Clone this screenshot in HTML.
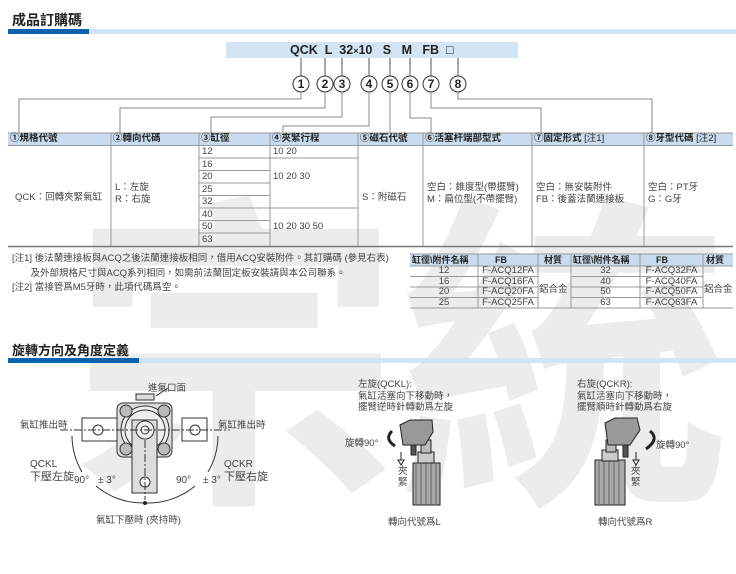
<!DOCTYPE html>
<html><head><meta charset="utf-8"><style>
body{margin:0;width:736px;height:538px;position:relative;background:#fff;overflow:hidden;font-family:"Liberation Sans","Noto Sans CJK TC",sans-serif;color:#333}
.a{position:absolute;white-space:nowrap}
.wm{position:absolute;color:#ececec;font-family:"Noto Sans CJK TC",sans-serif;font-weight:700;line-height:1}
.t{font-size:9.5px;color:#444}
</style></head><body>
<div class="wm" style="left:70px;top:170px;font-size:330px">宗</div>
<div class="wm" style="left:400px;top:170px;font-size:330px">統</div>

<div class="a" style="left:12px;top:10px;font-size:14px;font-weight:700;color:#222">成品訂購碼</div>
<div class="a" style="left:8px;top:29px;width:81px;height:5px;background:#0a63b0"></div>
<div class="a" style="left:89px;top:29px;width:647px;height:5px;background:#d3e4f4"></div>

<div class="a" style="left:226px;top:42px;width:292px;height:16px;background:#d3e4f4"></div>
<div class="a" style="left:290px;top:42px;font-size:12.5px;font-weight:700;color:#222;line-height:16px">QCK&nbsp; L&nbsp; 32<span style="font-size:9px">×</span>10&nbsp;&nbsp; S&nbsp;&nbsp; M&nbsp;&nbsp; FB&nbsp;&nbsp;<span style="font-weight:400">□</span></div>

<svg class="a" style="left:0;top:0" width="736" height="538">
<g fill="none" stroke="#555" stroke-width="1">
<path d="M301 58V77M325 58V77M342 58V77M369 58V77M390 58V77M410 58V77M431 58V77M458 58V77"/>
</g>
<g fill="#fff" stroke="#333" stroke-width="1">
<ellipse cx="301" cy="84" rx="8" ry="8"/><ellipse cx="325" cy="84" rx="8" ry="8"/><ellipse cx="342" cy="84" rx="8" ry="8"/><ellipse cx="369" cy="84" rx="8" ry="8"/><ellipse cx="390" cy="84" rx="8" ry="8"/><ellipse cx="410" cy="84" rx="8" ry="8"/><ellipse cx="431" cy="84" rx="8" ry="8"/><ellipse cx="458" cy="84" rx="8" ry="8"/>
</g>
<g font-size="12" font-weight="700" fill="#222" text-anchor="middle" font-family="Liberation Sans">
<text x="301" y="88">1</text><text x="325" y="88">2</text><text x="342" y="88">3</text><text x="369" y="88">4</text><text x="390" y="88">5</text><text x="410" y="88">6</text><text x="431" y="88">7</text><text x="458" y="88">8</text>
</g>
<g fill="none" stroke="#888" stroke-width="1">
<path d="M301 92V99H19V133M325 92V108H120V133M342 92V117H211V133M369 92V126H283V133M390 92V133M410 92V118H431V133M431 92V108H541V133M458 92V99H652V133"/>
</g>
<!-- main table -->
<rect x="8" y="133" width="725" height="12" fill="#c9dcef"/>
<g stroke="#999" stroke-width="1" fill="none">
<path d="M8 133H733M8 145.5H733"/>
<path d="M111 133V246M199 133V246M270 133V246M358 133V246M423 133V246M532 133V246M644 133V246"/>
<path d="M199 158H358M199 170.5H270M199 183H270M199 195.5H270M199 208H358M199 220.5H270M199 233H270"/>
</g>
<path d="M8 246.5H733" stroke="#777" stroke-width="1.5"/>
<!-- small table -->
<rect x="410" y="254" width="323" height="12" fill="#c9dcef"/>
<g stroke="#999" fill="none">
<path d="M410 254H733M410 266H733M410 276.5H538M571 276.5H703M410 287H538M571 287H703M410 297.5H538M571 297.5H703M410 308H733"/>
<path d="M478 254V308M538 254V308M571 254V308M640 254V308M703 254V308"/>
</g>

<!-- left diagram -->
<g fill="none" stroke="#333" stroke-width="1">
<rect x="82" y="418" width="35" height="23" fill="#fff"/>
<rect x="182" y="418" width="25" height="23" fill="#fff"/>
<rect x="117" y="403" width="55" height="54" rx="6" fill="#ddd"/>
<circle cx="145" cy="430" r="24" fill="#eee"/>
<circle cx="145" cy="430" r="20"/>
<path d="M136 400h18v-6h-18z" fill="#ddd"/>
<circle cx="126" cy="411" r="6" fill="#bbb"/><circle cx="164" cy="411" r="6" fill="#bbb"/>
<circle cx="126" cy="449" r="6" fill="#bbb"/><circle cx="164" cy="449" r="6" fill="#bbb"/>
<rect x="132" y="420" width="25" height="73" fill="#ddd"/>
<circle cx="145" cy="430" r="9" fill="#eee"/><circle cx="145" cy="430" r="4"/>
<circle cx="145" cy="482" r="5" fill="#fff"/>
<circle cx="98" cy="430" r="5" fill="#fff"/><circle cx="195" cy="430" r="5" fill="#fff"/>
<path d="M145 440V500M60 430H230" stroke-dasharray="8 2 2 2"/>
<path d="M72 436A73 73 0 0 0 82 472M96 486A73 73 0 0 0 143 503M147 503A73 73 0 0 0 195 486M208 472A73 73 0 0 0 218 436"/>
<path d="M168 388L156 396"/>
</g>
<circle cx="145" cy="503" r="2" fill="#222"/>
<!-- clamps -->
<g stroke="#222" stroke-width="1">
<rect x="413" y="463" width="27" height="42" fill="#aaa"/>
<path d="M416 463v42M421 463v42M426 463v42M431 463v42M436 463v42" stroke="#666"/>
<rect x="418" y="452" width="16" height="11" fill="#ccc"/>
<rect x="421" y="440" width="10" height="13" fill="#bbb"/>
<path d="M400 425l10-5h22l1 12-8 13h-22z" fill="#999"/>
<rect x="411" y="445" width="5" height="10" fill="#555"/>
<path d="M392 431q-8 8 3 15" fill="none" stroke-width="3"/>
<path d="M401 452v8h-3l3 5 3-5h-3" fill="#fff"/>

<rect x="595" y="460" width="30" height="45" fill="#aaa"/>
<path d="M599 460v45M604 460v45M609 460v45M614 460v45M619 460v45" stroke="#666"/>
<rect x="602" y="450" width="16" height="11" fill="#ccc"/>
<rect x="606" y="440" width="10" height="12" fill="#bbb"/>
<path d="M605 423l10-5h22l3 12-10 15h-22z" fill="#999"/>
<rect x="623" y="445" width="5" height="12" fill="#555"/>
<path d="M650 431q10 8 -4 18" fill="none" stroke-width="3"/>
<path d="M636 452v8h-3l3 5 3-5h-3" fill="#fff"/>
</g>
</svg>

<div class="a" style="left:8px;top:133px;font-size:9.5px;line-height:12px;font-weight:700;color:#222">
<span class="a" style="left:2px">①規格代號</span><span class="a" style="left:105px">②轉向代碼</span><span class="a" style="left:193px">③缸徑</span><span class="a" style="left:264px">④夾緊行程</span><span class="a" style="left:352px">⑤磁石代號</span><span class="a" style="left:417px">⑥活塞杆端部型式</span><span class="a" style="left:526px">⑦固定形式 <span style="font-weight:400">[注1]</span></span><span class="a" style="left:638px">⑧牙型代碼 <span style="font-weight:400">[注2]</span></span>
</div>
<div class="t a" style="left:202px;top:146px;line-height:12.5px">12<br>16<br>20<br>25<br>32<br>40<br>50<br>63</div>
<div class="t a" style="left:273px;top:146px;line-height:12.5px">10 20</div>
<div class="t a" style="left:273px;top:171px;line-height:12.5px">10 20 30</div>
<div class="t a" style="left:273px;top:221px;line-height:12.5px">10 20 30 50</div>
<div class="t a" style="left:15px;top:189px">QCK：回轉夾緊氣缸</div>
<div class="t a" style="left:115px;top:182px;line-height:12px">L：左旋<br>R：右旋</div>
<div class="t a" style="left:362px;top:189px">S：附磁石</div>
<div class="t a" style="left:427px;top:182px;line-height:12px">空白：錐度型(帶擺臂)<br>M：扁位型(不帶擺臂)</div>
<div class="t a" style="left:536px;top:182px;line-height:12px">空白：無安裝附件<br>FB：後蓋法蘭連接板</div>
<div class="t a" style="left:648px;top:182px;line-height:12px">空白：PT牙<br>G：G牙</div>

<div class="t a" style="left:12px;top:252px;line-height:14.5px">[注1] 後法蘭連接板與ACQ之後法蘭連接板相同，借用ACQ安裝附件。其訂購碼 (參見右表)<br>&nbsp;&nbsp;&nbsp;&nbsp;&nbsp;&nbsp;&nbsp;及外部規格尺寸與ACQ系列相同，如需前法蘭固定板安裝請與本公司聯系。<br>[注2] 當接管爲M5牙時，此項代碼爲空。</div>

<div class="a" style="left:410px;top:254px;font-size:9px;line-height:12px;font-weight:700;color:#222">
<span class="a" style="left:2px">缸徑\附件名稱</span><span class="a" style="left:85px">FB</span><span class="a" style="left:134px">材質</span><span class="a" style="left:163px">缸徑\附件名稱</span><span class="a" style="left:246px">FB</span><span class="a" style="left:296px">材質</span></div>
<div class="t a" style="left:410px;top:266px;width:68px;text-align:center;line-height:10.5px">12<br>16<br>20<br>25</div>
<div class="t a" style="left:478px;top:266px;width:60px;text-align:center;line-height:10.5px">F-ACQ12FA<br>F-ACQ16FA<br>F-ACQ20FA<br>F-ACQ25FA</div>
<div class="t a" style="left:571px;top:266px;width:69px;text-align:center;line-height:10.5px">32<br>40<br>50<br>63</div>
<div class="t a" style="left:640px;top:266px;width:63px;text-align:center;line-height:10.5px">F-ACQ32FA<br>F-ACQ40FA<br>F-ACQ50FA<br>F-ACQ63FA</div>
<div class="t a" style="left:539px;top:281px">鋁合金</div>
<div class="t a" style="left:704px;top:281px">鋁合金</div>

<div class="a" style="left:12px;top:340px;font-size:13px;font-weight:700;color:#222">旋轉方向及角度定義</div>
<div class="a" style="left:8px;top:358px;width:131px;height:5px;background:#0a63b0"></div>
<div class="a" style="left:139px;top:358px;width:597px;height:5px;background:#d3e4f4"></div>

<div class="t a" style="left:148px;top:380px">進氣口面</div>
<div class="t a" style="left:20px;top:417px">氣缸推出時</div>
<div class="t a" style="left:218px;top:417px">氣缸推出時</div>
<div class="t a" style="left:30px;top:459px;font-size:10px;line-height:12px">QCKL<br><span style="font-size:11px">下壓左旋</span></div>
<div class="t a" style="left:74px;top:475px;font-size:10px">90°</div>
<div class="t a" style="left:98px;top:475px;font-size:10px">± 3°</div>
<div class="t a" style="left:176px;top:475px;font-size:10px">90°</div>
<div class="t a" style="left:203px;top:475px;font-size:10px">± 3°</div>
<div class="t a" style="left:224px;top:459px;font-size:10px;line-height:12px">QCKR<br><span style="font-size:11px">下壓右旋</span></div>
<div class="t a" style="left:96px;top:512px">氣缸下壓時 (夾持時)</div>

<div class="t a" style="left:358px;top:379px;line-height:11.5px">左旋(QCKL):<br>氣缸活塞向下移動時，<br>擺臂逆時針轉動爲左旋</div>
<div class="t a" style="left:577px;top:379px;line-height:11.5px">右旋(QCKR):<br>氣缸活塞向下移動時，<br>擺臂順時針轉動爲右旋</div>
<div class="t a" style="left:345px;top:435px">旋轉90°</div>
<div class="t a" style="left:656px;top:437px">旋轉90°</div>
<div class="t a" style="left:398px;top:466px;line-height:11px">夾<br>緊</div>
<div class="t a" style="left:631px;top:466px;line-height:11px">夾<br>緊</div>
<div class="t a" style="left:388px;top:514px">轉向代號爲L</div>
<div class="t a" style="left:598px;top:514px">轉向代號爲R</div>
</body></html>
